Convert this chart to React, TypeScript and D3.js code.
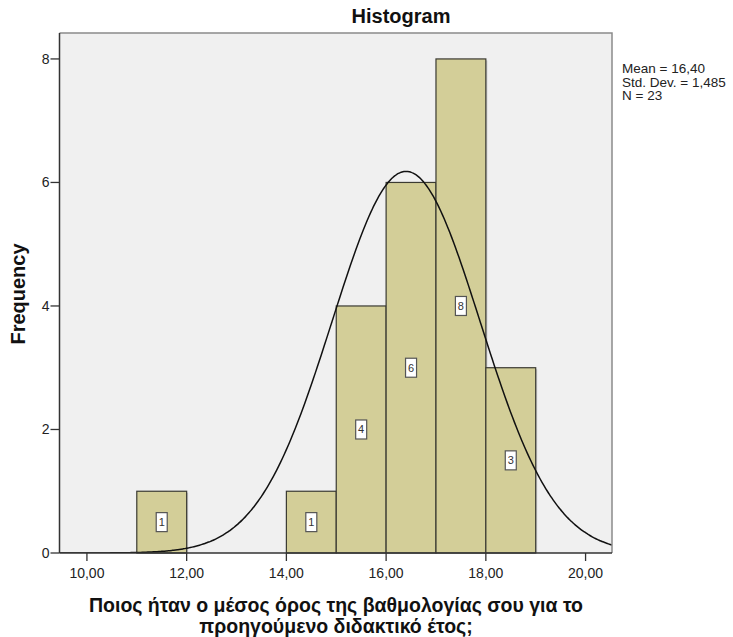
import React from "react";
import * as d3 from "d3";

const binStarts = [11, 14, 15, 16, 17, 18];
const binCounts = [1, 1, 4, 6, 8, 3];
const binWidth = 1;
const xTicks = [10, 12, 14, 16, 18, 20];
const yTicks = [0, 2, 4, 6, 8];
const statLines = ["Mean = 16,40", "Std. Dev. = 1,485", "N = 23"];
const meanVal = 16.4;
const sdVal = 1.485;
const nVal = 23;
const titleText = "Histogram";
const xLabelLines = [
  "Ποιος ήταν ο μέσος όρος της βαθμολογίας σου για το",
  "προηγούμενο διδακτικό έτος;",
];
const yLabelText = "Frequency";

const W = 733;
const H = 637;
const left = 59.5;
const right = 612;
const top = 33;
const bottom = 553;

export default function App() {
  const x = d3.scaleLinear().domain([9.45, 20.53]).range([left, right]);
  const y = d3.scaleLinear().domain([0, 8.42]).range([bottom, top]);
  const fmt = (v: number) => d3.format(".2f")(v).replace(".", ",");

  const pdf = (v: number) =>
    (nVal * binWidth * Math.exp(-0.5 * ((v - meanVal) / sdVal) ** 2)) /
    (sdVal * Math.sqrt(2 * Math.PI));
  const [d0, d1] = x.domain();
  const pts: [number, number][] = d3
    .range(0, 301)
    .map((i) => d0 + ((d1 - d0) * i) / 300)
    .map((v) => [v, pdf(v)]);
  const line = d3
    .line<[number, number]>()
    .x((d) => x(d[0]))
    .y((d) => y(d[1]))
    .curve(d3.curveMonotoneX);

  const font = "'Liberation Sans', Arial, sans-serif";

  return (
    <svg
      width={W}
      height={H}
      style={{ position: "absolute", left: 0, top: 0, background: "#fff" }}
      fontFamily={font}
    >
      <defs>
        <clipPath id="plotclip">
          <rect x={left} y={top} width={right - left} height={bottom - top} />
        </clipPath>
      </defs>
      <rect x={left} y={top} width={right - left} height={bottom - top} fill="#f0f0f0" />
      {binStarts.map((s, i) => (
        <g key={"b" + i}>
          <rect
            x={x(s) + 1.5}
            y={y(binCounts[i]) + 1.5}
            width={x(s + binWidth) - x(s)}
            height={y(0) - y(binCounts[i]) - 1.5}
            fill="#c8c8c8"
          />
          <rect
            x={x(s)}
            y={y(binCounts[i])}
            width={x(s + binWidth) - x(s)}
            height={y(0) - y(binCounts[i])}
            fill="#d3ce98"
            stroke="#3a3a32"
            strokeWidth={1.2}
          />
        </g>
      ))}
      <path d={line(pts) || ""} fill="none" stroke="#111" strokeWidth={1.5} clipPath="url(#plotclip)" />
      {binStarts.map((s, i) => {
        const cx = x(s + binWidth / 2);
        const cy = y(binCounts[i] / 2);
        return (
          <g key={"l" + i}>
            <rect x={cx - 5.5} y={cy - 9.5} width={11} height={19} fill="#fff" stroke="#555" strokeWidth={1.2} />
            <text x={cx} y={cy + 4} textAnchor="middle" fontSize={11} fill="#333">
              {binCounts[i]}
            </text>
          </g>
        );
      })}
      <path
        d={`M${left},${top}H${right}V${bottom}`}
        fill="none"
        stroke="#8a8a8a"
        strokeWidth={1.5}
      />
      <line x1={left} x2={left} y1={top} y2={bottom} stroke="#333" strokeWidth={1.5} />
      <line x1={left} x2={right} y1={bottom} y2={bottom} stroke="#333" strokeWidth={1.5} />
      {yTicks.map((t) => (
        <g key={"y" + t}>
          <line x1={left - 9} x2={left} y1={y(t)} y2={y(t)} stroke="#333" strokeWidth={1.3} />
          <text x={left - 10} y={y(t) + 5} textAnchor="end" fontSize={14} fill="#222">
            {t}
          </text>
        </g>
      ))}
      {xTicks.map((t) => (
        <g key={"x" + t}>
          <line x1={x(t)} x2={x(t)} y1={bottom} y2={bottom + 8} stroke="#333" strokeWidth={1.3} />
          <text x={x(t)} y={bottom + 25} textAnchor="middle" fontSize={14} fill="#222">
            {fmt(t)}
          </text>
        </g>
      ))}
      <text x={401} y={23} textAnchor="middle" fontSize={20} fontWeight="bold" fill="#111">
        {titleText}
      </text>
      <text
        transform={`translate(${25},${294}) rotate(-90)`}
        textAnchor="middle"
        fontSize={20}
        fontWeight="bold"
        fill="#111"
      >
        {yLabelText}
      </text>
      {xLabelLines.map((l, i) => (
        <text key={"xl" + i} x={336} y={612 + i * 21} textAnchor="middle" fontSize={19.5} fontWeight="bold" fill="#111">
          {l}
        </text>
      ))}
      {statLines.map((s, i) => (
        <text key={"s" + i} x={622} y={73 + i * 13.5} fontSize={13.5} fill="#222">
          {s}
        </text>
      ))}
    </svg>
  );
}
